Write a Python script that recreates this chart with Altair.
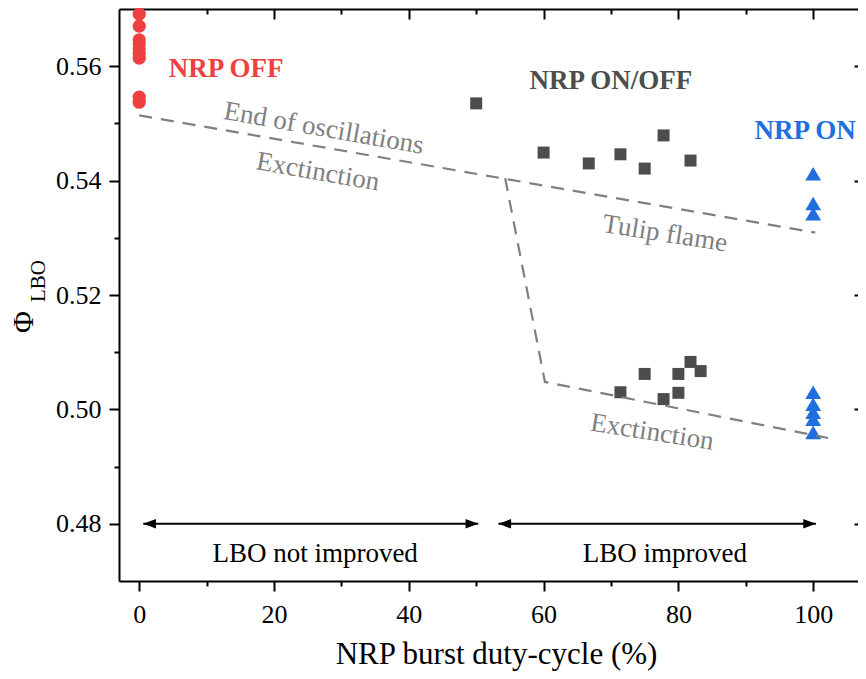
import altair as alt
import pandas as pd

FONT = "Liberation Serif"
RED = "#ee4040"
BLUE = "#1f6fde"
DARK = "#4d4d4d"
GREY = "#808080"

# ---- data ----
off_x = [0, 0, 0, 0, 0, 0, 0, 0, 0]
off_y = [0.5691, 0.5670, 0.5646, 0.5639, 0.5630, 0.5622, 0.5614, 0.5546, 0.5537]

onoff_x = [50, 60, 66.7, 71.4, 75, 77.8, 81.8, 71.4, 75, 77.8, 80, 80, 81.8, 83.3]
onoff_y = [0.5535, 0.5449, 0.5430, 0.5446, 0.5421, 0.5479, 0.5435,
           0.5030, 0.5062, 0.5018, 0.5062, 0.5029, 0.5083, 0.5067]

on_x = [100, 100, 100, 100, 100, 100, 100, 100]
on_y = [0.5412, 0.5360, 0.5342, 0.5030, 0.5009, 0.4995, 0.4983, 0.4960]

curve_seg = ["upper", "upper", "lower", "lower", "lower"]
curve_x = [0, 100.3, 54.3, 60.2, 102.2]
curve_y = [0.5514, 0.5309, 0.5404, 0.5048, 0.4950]

arrow_x1 = [0.6, 53.3]
arrow_x2 = [50.3, 100.4]
arrow_y = [0.48, 0.48]

bold_text = ["NRP OFF", "NRP ON/OFF", "NRP ON"]
bold_x = [12.9, 70.0, 98.8]
bold_y = [0.5595, 0.5574, 0.5487]
bold_color = [RED, DARK, BLUE]

curve_text = ["End of oscillations", "Exctinction", "Tulip flame", "Exctinction"]
curve_text_x = [27.4, 26.5, 78.0, 76.1]
curve_text_y = [0.5491, 0.5415, 0.5307, 0.4960]
curve_text_angle = [10, 10, 9, 9]

region_text = ["LBO not improved", "LBO improved"]
region_x = [26.1, 78.0]
region_y = [0.4748, 0.4748]

x_major = [0, 20, 40, 60, 80, 100]
x_minor = [10, 30, 50, 70, 90]
y_major = [0.48, 0.50, 0.52, 0.54, 0.56]
y_minor = [0.49, 0.51, 0.53, 0.55]

XDOM = [-3, 106.65]
YDOM = [0.47, 0.57]

# ---- axes ----
def xaxis(kind):
    common = dict(grid=False, tickColor="black", tickWidth=2, domainColor="black", domainWidth=2)
    if kind == "bottom_major":
        return alt.Axis(orient="bottom", values=x_major, tickSize=10, labelFontSize=26, domain=True,
                        labelFont=FONT, labelColor="black", labelPadding=10, labelFlush=False,
                        title="NRP burst duty-cycle (%)", titleFont=FONT, titleFontSize=31,
                        titleFontWeight="normal", titleColor="black", titleY=82, titleX=377,
                        titleBaseline="alphabetic", **common)
    if kind == "bottom_minor":
        return alt.Axis(orient="bottom", values=x_minor, tickSize=5, labels=False, title=None,
                        domain=False, **common)
    if kind == "top_major":
        return alt.Axis(orient="top", values=x_major, tickSize=10, offset=-10, labels=False,
                        title=None, domain=False, **common)
    if kind == "top_minor":
        return alt.Axis(orient="top", values=x_minor, tickSize=5, offset=-5, labels=False,
                        title=None, domain=False, **common)
    return alt.Axis(orient="top", ticks=False, labels=False, title=None, domain=True, **common)


def yaxis(kind):
    common = dict(grid=False, tickColor="black", tickWidth=2, domainColor="black", domainWidth=2)
    if kind == "left_major":
        return alt.Axis(orient="left", values=y_major, tickSize=10, labelFontSize=26, format=".2f",
                        labelFont=FONT, labelColor="black", labelPadding=8, labelFlush=False,
                        title=None, domain=True, **common)
    if kind == "left_minor":
        return alt.Axis(orient="left", values=y_minor, tickSize=5, labels=False, title=None,
                        domain=False, **common)
    return alt.Axis(orient="right", values=y_major, tickSize=4, offset=-4, labels=False,
                    title=None, domain=False, **common)


def X(axis, field="x"):
    return alt.X(f"{field}:Q", scale=alt.Scale(domain=XDOM, nice=False, zero=False), axis=axis)


def Y(axis, field="y"):
    return alt.Y(f"{field}:Q", scale=alt.Scale(domain=YDOM, nice=False, zero=False), axis=axis)


# ---- layers ----
off_df = pd.DataFrame({"x": off_x, "y": off_y})
onoff_df = pd.DataFrame({"x": onoff_x, "y": onoff_y})
on_df = pd.DataFrame({"x": on_x, "y": on_y})
curve_df = pd.DataFrame({"seg": curve_seg, "x": curve_x, "y": curve_y, "i": list(range(len(curve_x)))})

red = alt.Chart(off_df).mark_point(shape="circle", filled=True, size=175, color=RED, opacity=1).encode(
    x=X(xaxis("bottom_major")), y=Y(yaxis("left_major")))

squares = alt.Chart(onoff_df).mark_point(shape="square", filled=True, size=144, color=DARK, opacity=1).encode(
    x=X(xaxis("bottom_minor")), y=Y(yaxis("left_minor")))

tri = alt.Chart(on_df).mark_point(shape="triangle-up", filled=True, size=250, color=BLUE, opacity=1).encode(
    x=X(xaxis("top_major")), y=Y(yaxis("right_major")))

curves = alt.Chart(curve_df).mark_line(color=GREY, strokeWidth=2.2, strokeDash=[13, 9]).encode(
    x=X(xaxis("top_minor")), y=Y(None), detail="seg:N", order="i:Q")

arrow_df = pd.DataFrame({"x1": arrow_x1, "x2": arrow_x2, "y": arrow_y})
shafts = alt.Chart(arrow_df).mark_rule(color="black", strokeWidth=2).encode(
    x=X(xaxis("top_domain"), "x1"), x2="x2:Q", y=Y(None))

head_rows = []
for a, b, yy in zip(arrow_x1, arrow_x2, arrow_y):
    head_rows.append({"x": a, "y": yy, "shape": "M0,0L2,-0.75L2,0.75Z"})
    head_rows.append({"x": b, "y": yy, "shape": "M0,0L-2,-0.75L-2,0.75Z"})
heads = alt.Chart(pd.DataFrame(head_rows)).mark_point(filled=True, size=160, color="black", opacity=1).encode(
    x=X(None), y=Y(None), shape=alt.Shape("shape:N", scale=None))

bold_df = pd.DataFrame({"t": bold_text, "x": bold_x, "y": bold_y, "c": bold_color})
bold = alt.Chart(bold_df).mark_text(font=FONT, fontSize=27, fontWeight="bold", align="center", baseline="middle").encode(
    x=X(None), y=Y(None), text="t:N", color=alt.Color("c:N", scale=None))

ct_df = pd.DataFrame({"t": curve_text, "x": curve_text_x, "y": curve_text_y, "a": curve_text_angle})
ctext = alt.Chart(ct_df).mark_text(font=FONT, fontSize=27, color=GREY, align="center", baseline="middle").encode(
    x=X(None), y=Y(None), text="t:N", angle=alt.Angle("a:Q", scale=None))

rg_df = pd.DataFrame({"t": region_text, "x": region_x, "y": region_y})
rtext = alt.Chart(rg_df).mark_text(font=FONT, fontSize=27, color="black", align="center", baseline="middle").encode(
    x=X(None), y=Y(None), text="t:N")

ytitle_phi = alt.Chart(pd.DataFrame({"t": ["Φ"]})).mark_text(
    font=FONT, fontSize=30, color="black", angle=270, align="center", baseline="middle").encode(
    text="t:N", x=alt.value(-95), y=alt.value(313))
ytitle_sub = alt.Chart(pd.DataFrame({"t": ["LBO"]})).mark_text(
    font=FONT, fontSize=21, color="black", angle=270, align="center", baseline="middle").encode(
    text="t:N", x=alt.value(-80), y=alt.value(272))

chart = alt.layer(
    red, squares, tri, curves, shafts, heads, bold, ctext, rtext, ytitle_phi, ytitle_sub
).resolve_axis(x="independent", y="independent").properties(
    width=739, height=572,
    autosize=alt.AutoSizeParams(type="none"),
    padding={"left": 111, "top": 1, "right": 0, "bottom": 90},
).configure_view(stroke=None).configure(background="white")

chart.save("out.html", embed_options={"renderer": "svg", "actions": False})
